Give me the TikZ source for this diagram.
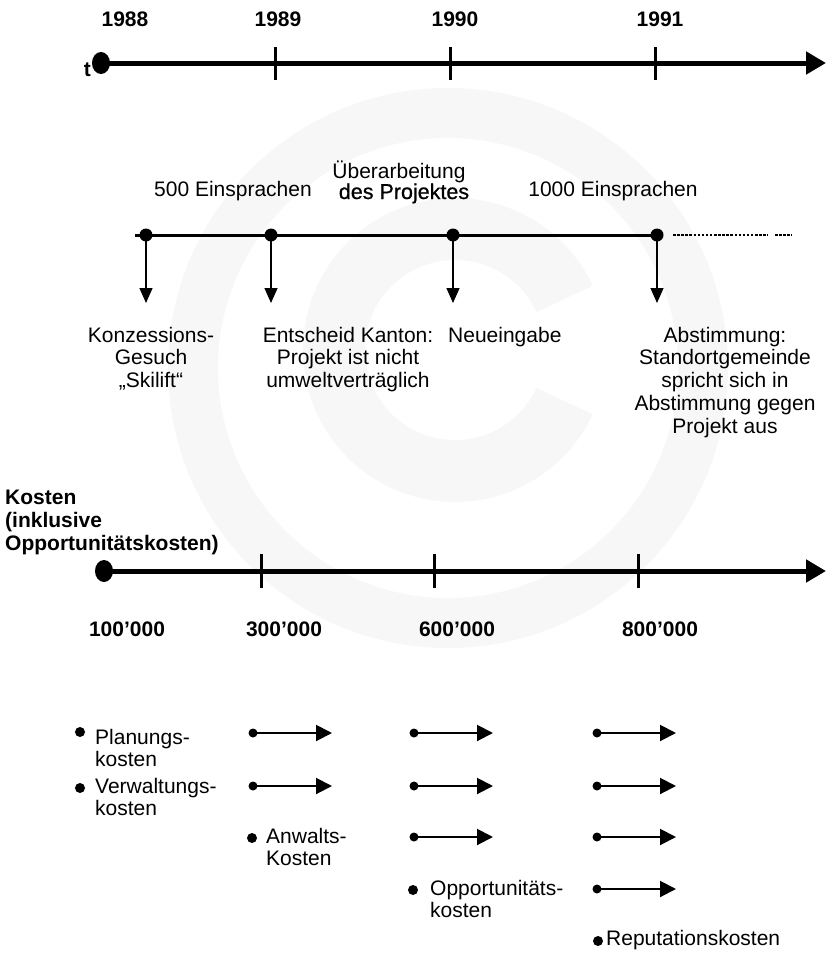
\documentclass[tikz,border=0pt]{standalone}
\usepackage{fontspec}
\setmainfont{Liberation Sans}
\newfontfamily\heavier{Liberation Sans}[FakeBold=0.7]
\usetikzlibrary{arrows.meta,shapes.geometric}
\begin{document}
\begin{tikzpicture}[x=1pt,y=-1pt,
  lbl/.style={inner sep=0pt, anchor=base, align=center, font=\fontsize{21}{22.8}\selectfont},
  blbl/.style={inner sep=0pt, anchor=base, align=left, font=\fontsize{21}{23}\selectfont\bfseries},
  bigdot/.style={ellipse, fill, inner sep=0pt, minimum width=18pt, minimum height=22pt},
  axisline/.style={line width=5pt, -{Triangle[length=20pt,width=22pt]}},
  tickline/.style={line width=3pt},
  evdot/.style={circle, fill, inner sep=0pt, minimum size=13pt},
  downarrow/.style={line width=1.3pt, -{Triangle[length=15pt,width=13pt]}},
  smdot/.style={circle, fill, inner sep=0pt, minimum size=9pt},
  costarrow/.style={line width=2pt, -{Triangle[length=16pt,width=16pt]}},
  bullet/.style={circle, fill, inner sep=0pt, minimum size=10pt},
  wm/.style={black!3}
]
\useasboundingbox (0,0) rectangle (827,953);

% faint copyright mark in the background
\fill[wm, even odd rule] (448,368) circle[radius=280] (448,368) circle[radius=230];
\fill[wm, shift={(455,350)}] (25:152) arc[start angle=25, end angle=335, radius=152]
  -- (335:90) arc[start angle=335, end angle=25, radius=90] -- cycle;

% ---- time axis ----
\node[bigdot] (t0) at (101,63) {};
\coordinate (tEnd) at (826,63);
\draw[axisline] (t0.center) -- (tEnd);
\foreach \xx in {275,450,655} \draw[tickline] (\xx,47) -- (\xx,80);
\node[blbl, anchor=base east] (tlab) at (91,76) {t};
\node[blbl] (y88) at (125,27) {1988};
\node[blbl] (y89) at (278,27) {1989};
\node[blbl] (y90) at (455,27) {1990};
\node[blbl] (y91) at (660,27) {1991};

% ---- events ----
\draw[line width=3pt] (135,235) -- (657,235);
\draw[line width=2.5pt, dash pattern=on 2.5pt off 1.6pt] (673,235) -- (768,235);
\draw[line width=2.5pt, dash pattern=on 2.5pt off 1.6pt] (775,235) -- (792,235);
\node[evdot] (e1) at (146,235) {};
\node[evdot] (e2) at (271,235) {};
\node[evdot] (e3) at (453,235) {};
\node[evdot] (e4) at (657,235) {};
\coordinate (d1) at (146,303);
\coordinate (d2) at (271,303);
\coordinate (d3) at (453,303);
\coordinate (d4) at (657,303);
\foreach \i in {1,2,3,4} \draw[downarrow] (e\i.center) -- (d\i);

\node[lbl] (n500) at (233,196) {500 Einsprachen};
\node[lbl] (nueb) at (399,178) {Überarbeitung};
\node[lbl, font=\fontsize{21.5}{23}\selectfont\heavier] (ndes) at (404,199) {des Projektes};
\node[lbl] (n1000) at (613,196) {1000 Einsprachen};

% multi-line labels sit on the baseline of their last line
\node[lbl] (k1) at (151,387.6) {Konzessions-\\Gesuch\\„Skilift“};
\node[lbl] (k2) at (348,387.6) {Entscheid Kanton:\\Projekt ist nicht\\umweltverträglich};
\node[lbl, anchor=base west] (k3) at (448,342) {Neueingabe};
\node[lbl] (k4) at (725,433.2) {Abstimmung:\\Standortgemeinde\\spricht sich in\\Abstimmung gegen\\Projekt aus};

% ---- cost axis ----
\node[blbl, anchor=base west] (kosten) at (5,504) {Kosten};
\node[blbl, anchor=base west] (inkl) at (5,527) {(inklusive};
\node[blbl, anchor=base west] (opp) at (5,550) {Opportunitätskosten)};
\node[bigdot] (c0) at (104,571) {};
\coordinate (cEnd) at (826,571);
\draw[axisline] (c0.center) -- (cEnd);
\foreach \xx in {261,434,638} \draw[tickline] (\xx,554) -- (\xx,588);
\node[blbl, align=center] (v1) at (127,636) {100’000};
\node[blbl, align=center] (v2) at (284,636) {300’000};
\node[blbl, align=center] (v3) at (457,636) {600’000};
\node[blbl, align=center] (v4) at (660,636) {800’000};

% ---- cost items ----
\node[bullet] (b1) at (80,732) {};
\node[lbl, anchor=base west, align=left] (t1) at (95,766.8) {Planungs-\\kosten};
\node[bullet] (b2) at (80,788) {};
\node[lbl, anchor=base west, align=left] (t2) at (95,815.8) {Verwaltungs-\\kosten};
\node[bullet] (b3) at (252,838) {};
\node[lbl, anchor=base west, align=left] (t3) at (266,865.8) {Anwalts-\\Kosten};
\node[bullet] (b4) at (413,890) {};
\node[lbl, anchor=base west, align=left] (t4) at (430,917.8) {Opportunitäts-\\kosten};
\node[bullet] (b5) at (598,941) {};
\node[lbl, anchor=base west] (t5) at (606,945) {Reputationskosten};

% carry-over arrows: column x, row y
\foreach \cx/\ry/\nm in {253/733/a, 253/786/b,
                          414/733/c, 414/786/d, 414/837/e,
                          597/733/f, 597/786/g, 597/837/h, 597/889/i} {
  \node[smdot] (s\nm) at (\cx,\ry) {};
  \coordinate (f\nm) at (\cx+79,\ry);
  \draw[costarrow] (s\nm.center) -- (f\nm);
}
\end{tikzpicture}
\end{document}
